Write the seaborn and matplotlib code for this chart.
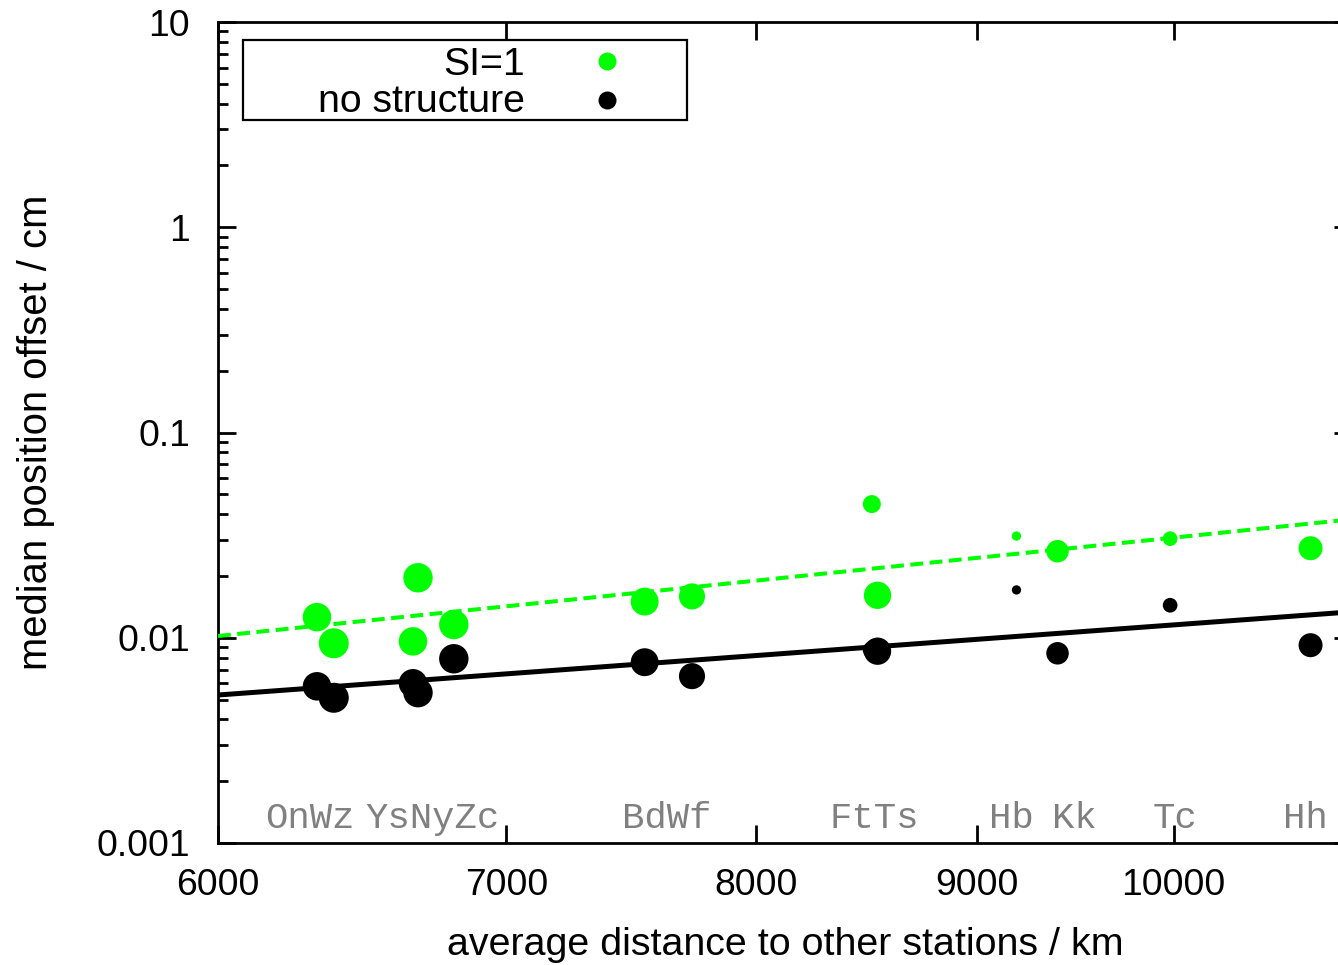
import numpy as np
import pandas as pd
import matplotlib
matplotlib.use("Agg")
import matplotlib.pyplot as plt
from matplotlib.patches import Rectangle
from matplotlib.ticker import FixedLocator, FixedFormatter, NullLocator, LogLocator
import seaborn as sns

# ---- data -------------------------------------------------------------
stations = ["On", "Wz", "Ys", "Ny", "Zc", "Bd", "Wf", "Ft", "Ts", "Hb", "Kk", "Tc", "Hh"]
distance_km = [6326, 6383, 6659, 6677, 6806, 7537, 7730, 8510, 8536, 9194, 9398, 9981, 10759]
offset_si1 = [0.0126, 0.0094, 0.0096, 0.0196, 0.0116, 0.0150, 0.0159,
              0.0448, 0.0161, 0.0313, 0.0264, 0.0304, 0.0273]
offset_nostruct = [0.0058, 0.0051, 0.0060, 0.0054, 0.0079, 0.0076, 0.0065,
                   0.0087, 0.0086, 0.0171, 0.0084, 0.0144, 0.0092]
# relative weight of each station (drives the point size)
weight = [0.95, 1.00, 0.95, 0.98, 0.98, 0.93, 0.87, 0.60, 0.91, 0.31, 0.75, 0.49, 0.80]

# power-law fits: offset = a * (distance / 6000) ** b
fit_si1 = (0.0102, 2.16)
fit_nostruct = (0.00526, 1.54)

label_groups = ["OnWz", "YsNyZc", "BdWf", "FtTs", "Hb", "Kk", "Tc", "Hh"]
label_km = [6302, 6727, 7627, 8523, 9171, 9485, 10006, 10732]

x_ticks = [6000, 7000, 8000, 9000, 10000]
x_tick_labels = ["6000", "7000", "8000", "9000", "10000"]
y_ticks = [0.001, 0.01, 0.1, 1, 10]
y_tick_labels = ["0.001", "0.01", "0.1", "1", "10"]

series_names = ["SI=1", "no structure"]

# ---- style -------------------------------------------------------------
sns.set_theme(style="white")
plt.rcParams["font.family"] = ["Liberation Sans", "DejaVu Sans"]
plt.rcParams["axes.linewidth"] = 2.0

GREEN = "#00ff00"
BLACK = "#000000"
DPI = 100
W, H = 1338, 965
MAX_R_PX = 15.0   # radius of the heaviest station, pixels


def area_pt2(r_px):
    d_pt = 2 * r_px * 72.0 / DPI
    return d_pt ** 2


df = pd.DataFrame({
    "station": stations,
    "distance": distance_km,
    "si1": offset_si1,
    "nostruct": offset_nostruct,
    "weight": weight,
})
df["area"] = [area_pt2(w * MAX_R_PX) for w in df["weight"]]
amin, amax = df["area"].min(), df["area"].max()

fig = plt.figure(figsize=(W / DPI, H / DPI), dpi=DPI)
left_px, right_px, top_px, bottom_px = 218, 1352, 22, 843
ax = fig.add_axes([left_px / W, (H - bottom_px) / H,
                   (right_px - left_px) / W, (bottom_px - top_px) / H])
ax.set_xscale("log")
ax.set_yscale("log")
ax.set_xlim(6000, 11000)
ax.set_ylim(0.001, 10)

for col, color in (("si1", GREEN), ("nostruct", BLACK)):
    sns.scatterplot(data=df, x="distance", y=col, size="area",
                    sizes=(amin, amax), size_norm=(amin, amax),
                    color=color, linewidth=0, legend=False, ax=ax,
                    zorder=3, clip_on=False)

xs = np.geomspace(6000, 11000, 200)
a, b = fit_si1
ax.plot(xs, a * (xs / 6000) ** b, color=GREEN, lw=2.9,
        dashes=(3.2, 1.6), zorder=4)
a, b = fit_nostruct
ax.plot(xs, a * (xs / 6000) ** b, color=BLACK, lw=3.6, zorder=4)

# station names along the bottom
for name, xk in zip(label_groups, label_km):
    ax.text(xk, 0.030, name, transform=ax.get_xaxis_transform(),
            ha="center", va="center", color="#808080",
            fontsize=26.8, family=["Liberation Mono", "DejaVu Sans Mono"])

# ticks
ax.xaxis.set_major_locator(FixedLocator(x_ticks))
ax.xaxis.set_major_formatter(FixedFormatter(x_tick_labels))
ax.xaxis.set_minor_locator(NullLocator())
ax.yaxis.set_major_locator(FixedLocator(y_ticks))
ax.yaxis.set_major_formatter(FixedFormatter(y_tick_labels))
ax.yaxis.set_minor_locator(LogLocator(base=10, subs=np.arange(2, 10), numticks=20))
ax.tick_params(which="both", direction="in", top=True, right=True,
               bottom=True, left=True,
               color="black", width=2.0, labelsize=26.8, labelcolor="black")
ax.tick_params(which="major", length=13)
ax.tick_params(which="minor", length=7)
ax.tick_params(axis="x", which="major", pad=18)
ax.tick_params(axis="y", which="major", pad=20)
for s in ax.spines.values():
    s.set_color("black")
    s.set_linewidth(2.0)

ax.set_xlabel("average distance to other stations / km", fontsize=28.4, color="black")
ax.set_ylabel("median position offset / cm", fontsize=28.8, color="black")
ax.xaxis.set_label_coords(0.5, (bottom_px - 927) / (bottom_px - top_px))
ax.yaxis.set_label_coords((55 - left_px) / (right_px - left_px), 0.5)

# key box in the upper left corner
def ax_xy(px, py):
    return ((px - left_px) / (right_px - left_px),
            (bottom_px - py) / (bottom_px - top_px))

bx0, by0 = ax_xy(243, 120)
bx1, by1 = ax_xy(687, 40)
ax.add_patch(Rectangle((bx0, by0), bx1 - bx0, by1 - by0, transform=ax.transAxes,
                       fill=True, facecolor="white", edgecolor="black",
                       lw=1.6, zorder=6))
for name, color, py_text, py_mark in ((series_names[0], GREEN, 75, 61),
                                      (series_names[1], BLACK, 112, 100)):
    tx, ty = ax_xy(525, py_text)
    ax.text(tx, ty, name, transform=ax.transAxes, ha="right", va="baseline",
            fontsize=28.3, color="black", zorder=7)
    mx, my = ax_xy(607, py_mark)
    ax.scatter([mx], [my], s=area_pt2(9.0), color=color, linewidth=0,
               transform=ax.transAxes, zorder=7, clip_on=False)

fig.savefig("out.png", dpi=DPI, facecolor="white")
